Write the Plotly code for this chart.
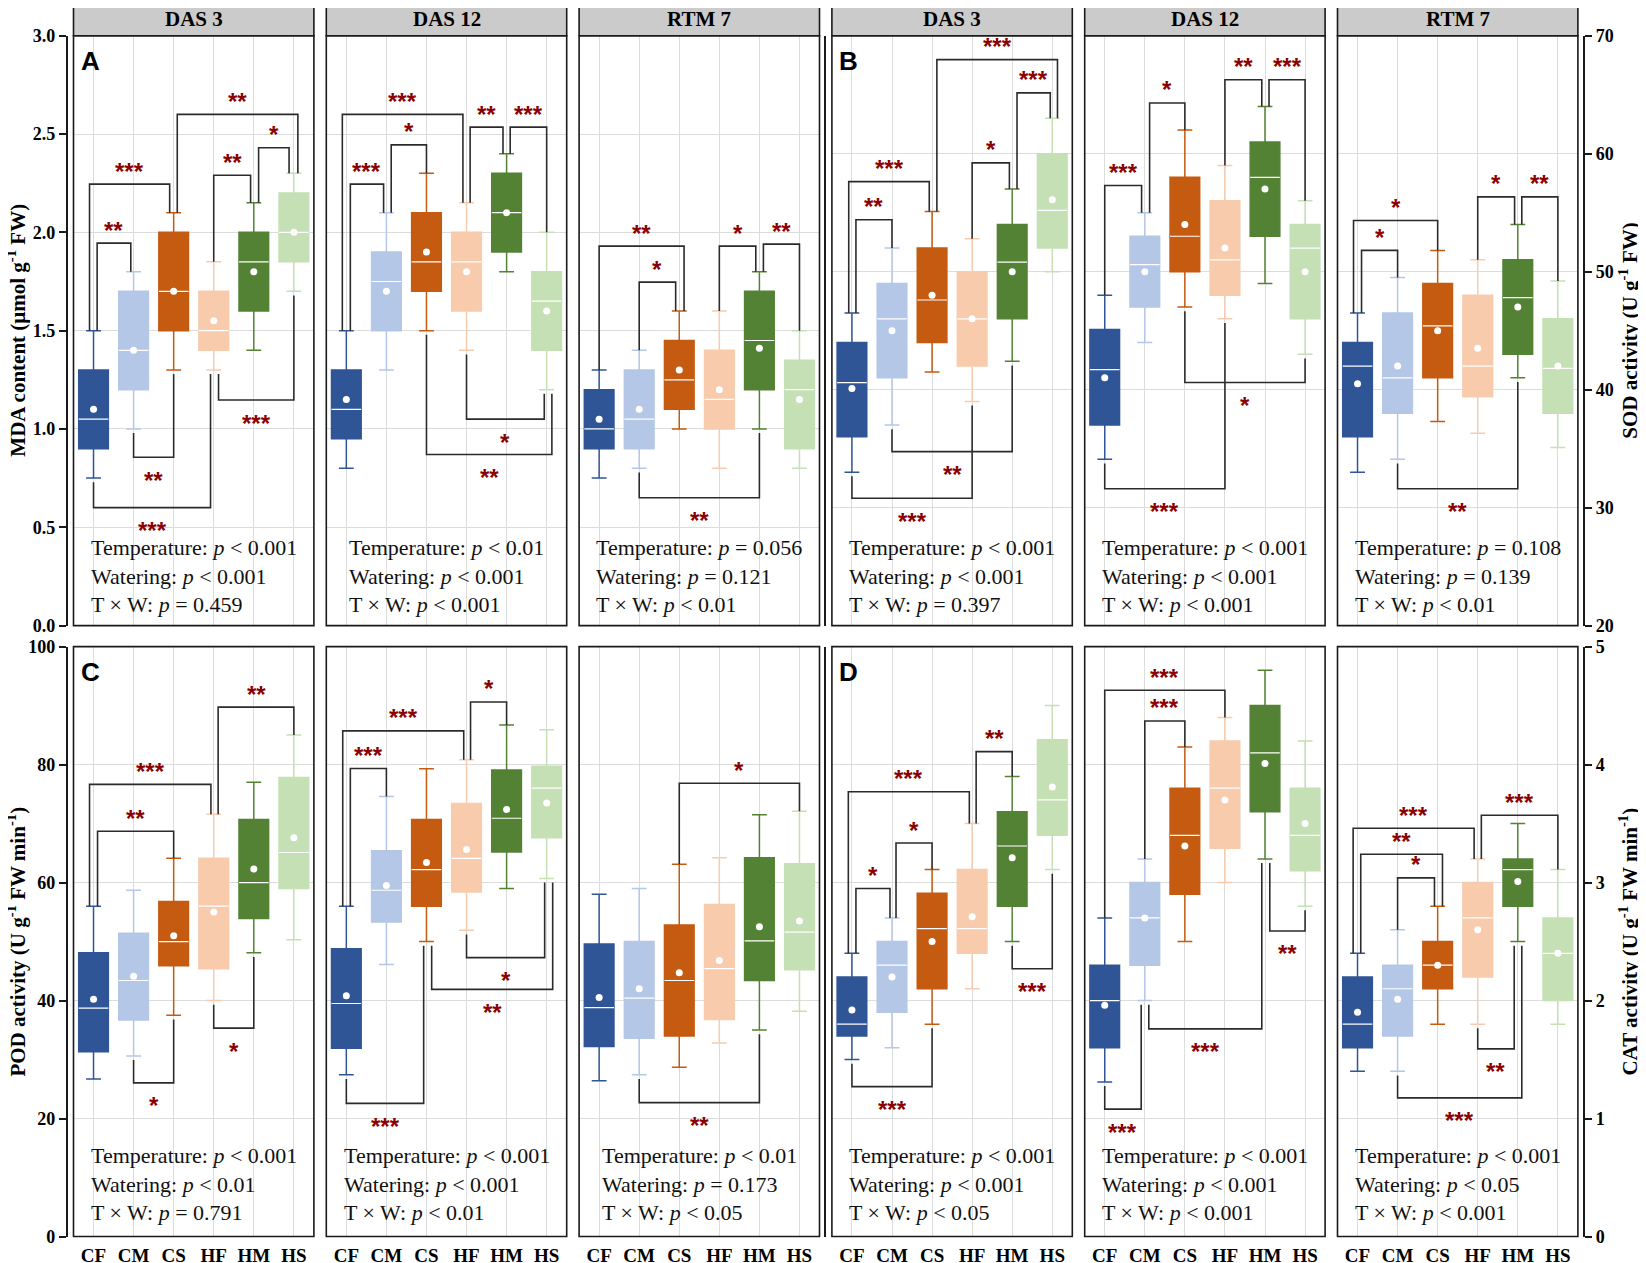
import plotly.graph_objects as go

GROUPS = ["CF", "CM", "CS", "HF", "HM", "HS"]
STAGES = ["DAS 3", "DAS 12", "RTM 7"]
COLORS = ["#2F5597", "#B4C7E7", "#C55A11", "#F8CBAD", "#548235", "#C5E0B4"]

# ---------------- data (rows = DAS 3, DAS 12, RTM 7; columns = CF..HS) ----------------
MDA_LO = [[0.75, 1.00, 1.30, 1.30, 1.40, 1.70], [0.80, 1.30, 1.50, 1.40, 1.80, 1.20], [0.75, 0.80, 1.00, 0.80, 1.00, 0.80]]
MDA_Q1 = [[0.90, 1.20, 1.50, 1.40, 1.60, 1.85], [0.95, 1.50, 1.70, 1.60, 1.90, 1.40], [0.90, 0.90, 1.10, 1.00, 1.20, 0.90]]
MDA_MED = [[1.05, 1.40, 1.70, 1.50, 1.85, 2.00], [1.10, 1.75, 1.85, 1.85, 2.10, 1.65], [1.00, 1.05, 1.25, 1.15, 1.45, 1.20]]
MDA_Q3 = [[1.30, 1.70, 2.00, 1.70, 2.00, 2.20], [1.30, 1.90, 2.10, 2.00, 2.30, 1.80], [1.20, 1.30, 1.45, 1.40, 1.70, 1.35]]
MDA_HI = [[1.50, 1.80, 2.10, 1.85, 2.15, 2.30], [1.50, 2.10, 2.30, 2.15, 2.40, 2.00], [1.30, 1.40, 1.60, 1.60, 1.80, 1.50]]
MDA_MEAN = [[1.10, 1.40, 1.70, 1.55, 1.80, 2.00], [1.15, 1.70, 1.90, 1.80, 2.10, 1.60], [1.05, 1.10, 1.30, 1.20, 1.41, 1.15]]

SOD_LO = [[33.0, 37.0, 41.5, 39.0, 42.4, 50.0], [34.1, 44.0, 47.0, 46.0, 49.0, 43.0], [33.0, 34.1, 37.3, 36.3, 41.0, 35.1]]
SOD_Q1 = [[36.0, 41.0, 44.0, 42.0, 46.0, 52.0], [37.0, 47.0, 50.0, 48.0, 53.0, 46.0], [36.0, 38.0, 41.0, 39.4, 43.0, 38.0]]
SOD_MED = [[40.6, 46.0, 47.6, 46.0, 50.8, 55.2], [41.7, 50.6, 53.0, 51.0, 58.0, 52.0], [42.0, 41.0, 45.4, 42.0, 47.8, 41.8]]
SOD_Q3 = [[44.0, 49.0, 52.0, 50.0, 54.0, 60.0], [45.1, 53.0, 58.0, 56.0, 61.0, 54.0], [44.0, 46.5, 49.0, 48.0, 51.0, 46.0]]
SOD_HI = [[46.5, 52.0, 55.1, 52.8, 57.0, 63.0], [48.0, 55.0, 62.0, 59.0, 64.0, 56.0], [46.5, 49.5, 51.8, 51.0, 54.0, 49.2]]
SOD_MEAN = [[40.1, 45.0, 48.0, 46.0, 50.0, 56.1], [41.0, 50.0, 54.0, 52.0, 57.0, 50.0], [40.5, 42.0, 45.0, 43.5, 47.0, 42.0]]

POD_LO = [[26.7, 30.6, 37.5, 40.0, 48.1, 50.3], [27.4, 46.1, 50.0, 51.9, 59.0, 60.7], [26.4, 27.4, 28.7, 32.8, 35.0, 38.2]]
POD_Q1 = [[31.3, 36.7, 45.9, 45.4, 53.9, 59.0], [31.9, 53.3, 56.0, 58.4, 65.2, 67.6], [32.2, 33.6, 34.0, 36.8, 43.4, 45.2]]
POD_MED = [[38.7, 43.4, 50.0, 56.0, 60.0, 65.1], [39.5, 58.7, 62.2, 64.1, 70.9, 76.0], [38.8, 40.4, 43.4, 45.4, 50.1, 51.6]]
POD_Q3 = [[48.1, 51.4, 56.8, 64.1, 70.7, 77.8], [48.8, 65.4, 70.7, 73.4, 79.1, 79.7], [49.6, 50.0, 52.8, 56.3, 64.2, 63.2]]
POD_HI = [[56.0, 58.7, 64.1, 71.6, 77.0, 85.0], [56.0, 74.6, 79.3, 80.8, 86.7, 85.9], [58.0, 59.0, 63.1, 64.2, 71.5, 72.1]]
POD_MEAN = [[40.2, 44.1, 51.0, 55.0, 62.3, 67.6], [40.8, 59.5, 63.4, 65.6, 72.4, 73.5], [40.5, 42.0, 44.7, 46.8, 52.5, 53.5]]

CAT_LO = [[1.50, 1.60, 1.80, 2.10, 2.50, 3.11], [1.31, 2.00, 2.50, 3.00, 3.20, 2.80], [1.40, 1.40, 1.80, 1.80, 2.50, 1.80]]
CAT_Q1 = [[1.70, 1.90, 2.10, 2.40, 2.80, 3.40], [1.60, 2.30, 2.90, 3.29, 3.60, 3.10], [1.60, 1.70, 2.10, 2.20, 2.80, 2.00]]
CAT_MED = [[1.80, 2.30, 2.61, 2.61, 3.31, 3.70], [2.00, 2.70, 3.40, 3.80, 4.10, 3.40], [1.80, 2.10, 2.30, 2.70, 3.11, 2.40]]
CAT_Q3 = [[2.20, 2.50, 2.91, 3.11, 3.60, 4.21], [2.30, 3.00, 3.80, 4.20, 4.50, 3.80], [2.20, 2.30, 2.50, 3.00, 3.20, 2.70]]
CAT_HI = [[2.40, 2.70, 3.11, 3.50, 3.90, 4.50], [2.70, 3.20, 4.15, 4.40, 4.80, 4.20], [2.40, 2.60, 2.80, 3.20, 3.50, 3.11]]
CAT_MEAN = [[1.92, 2.20, 2.50, 2.71, 3.21, 3.81], [1.96, 2.70, 3.31, 3.70, 4.01, 3.50], [1.90, 2.01, 2.30, 2.60, 3.01, 2.40]]

# significance brackets: (group i, group j, label, bracket level, side, leg nudge i, leg nudge j)
MDA_SIG = [
    [(0, 1, "**", 1.945, "up", 0.09, -0.07), (0, 2, "***", 2.245, "up", -0.10, -0.10), (2, 5, "**", 2.60, "up", 0.09, 0.10),
     (3, 4, "**", 2.29, "up", 0.0, -0.08), (4, 5, "*", 2.43, "up", 0.12, -0.12), (1, 2, "**", 0.856, "down", 0.0, 0.0),
     (0, 3, "***", 0.60, "down", 0.0, -0.08), (3, 5, "***", 1.147, "down", 0.12, 0.0)],
    [(0, 1, "***", 2.245, "up", 0.10, -0.07), (1, 2, "*", 2.445, "up", 0.12, 0.0), (0, 3, "***", 2.60, "up", -0.10, -0.09),
     (3, 4, "**", 2.535, "up", 0.09, -0.09), (4, 5, "***", 2.535, "up", 0.09, 0.0), (3, 5, "*", 1.05, "down", 0.0, -0.06),
     (2, 5, "**", 0.87, "down", 0.0, 0.13)],
    [(0, 2, "**", 1.93, "up", 0.0, 0.12), (1, 2, "*", 1.747, "up", 0.0, -0.09), (3, 4, "*", 1.93, "up", 0.0, -0.09),
     (4, 5, "**", 1.94, "up", 0.10, 0.0), (1, 4, "**", 0.65, "down", 0.0, 0.0)],
]
SOD_SIG = [
    [(0, 1, "**", 54.4, "up", 0.10, 0.0), (0, 2, "***", 57.63, "up", -0.08, -0.07), (2, 5, "***", 67.97, "up", 0.12, 0.13),
     (3, 4, "*", 59.22, "up", 0.0, -0.07), (4, 5, "***", 65.15, "up", 0.12, -0.05), (1, 4, "**", 34.75, "down", 0.0, 0.0),
     (0, 3, "***", 30.8, "down", 0.0, 0.0)],
    [(0, 1, "***", 57.3, "up", 0.0, -0.08), (1, 2, "*", 64.3, "up", 0.12, 0.0), (3, 4, "**", 66.27, "up", 0.0, -0.08),
     (4, 5, "***", 66.27, "up", 0.10, 0.0), (2, 5, "*", 40.6, "down", 0.0, 0.0), (0, 3, "***", 31.6, "down", 0.0, 0.0)],
    [(0, 1, "*", 51.8, "up", 0.10, 0.0), (0, 2, "*", 54.34, "up", -0.10, 0.0), (3, 4, "*", 56.34, "up", 0.0, -0.08),
     (4, 5, "**", 56.34, "up", 0.10, 0.0), (1, 4, "**", 31.6, "down", 0.0, 0.0)],
]
POD_SIG = [
    [(0, 2, "**", 68.71, "up", 0.10, 0.0), (0, 3, "***", 76.64, "up", -0.10, -0.07), (3, 5, "**", 89.74, "up", 0.11, 0.0),
     (1, 2, "*", 26.05, "down", 0.0, 0.0), (3, 4, "*", 35.33, "down", 0.0, 0.0)],
    [(0, 1, "***", 79.33, "up", 0.10, 0.0), (0, 3, "***", 85.71, "up", -0.09, -0.07), (3, 4, "*", 90.61, "up", 0.10, 0.0),
     (3, 5, "*", 47.28, "down", 0.0, -0.05), (2, 5, "**", 41.9, "down", 0.13, 0.15), (0, 2, "***", 22.56, "down", 0.0, -0.07)],
    [(2, 5, "*", 76.84, "up", 0.0, 0.0), (1, 4, "**", 22.7, "down", 0.0, 0.0)],
]
CAT_SIG = [
    [(0, 1, "*", 2.95, "up", 0.10, -0.05), (1, 2, "*", 3.335, "up", 0.10, 0.0), (0, 3, "***", 3.77, "up", -0.09, -0.07),
     (3, 4, "**", 4.11, "up", 0.10, 0.0), (0, 2, "***", 1.27, "down", 0.0, 0.0), (4, 5, "***", 2.27, "down", 0.0, 0.0)],
    [(1, 2, "***", 4.37, "up", 0.0, 0.0), (0, 3, "***", 4.63, "up", 0.0, 0.0), (0, 1, "***", 1.08, "down", 0.0, -0.09),
     (1, 4, "***", 1.76, "down", 0.10, -0.08), (4, 5, "**", 2.59, "down", 0.12, 0.0)],
    [(1, 2, "*", 3.04, "up", 0.0, -0.08), (0, 2, "**", 3.24, "up", 0.08, 0.12), (0, 3, "***", 3.46, "up", -0.11, -0.09),
     (3, 5, "***", 3.57, "up", 0.09, 0.0), (3, 4, "**", 1.59, "down", 0.0, -0.09), (1, 4, "***", 1.175, "down", 0.0, 0.10)],
]

# two-way ANOVA results: (Temperature, Watering, T x W)
MDA_STATS = [("< 0.001", "< 0.001", "= 0.459"), ("< 0.01", "< 0.001", "< 0.001"), ("= 0.056", "= 0.121", "< 0.01")]
SOD_STATS = [("< 0.001", "< 0.001", "= 0.397"), ("< 0.001", "< 0.001", "< 0.001"), ("= 0.108", "= 0.139", "< 0.01")]
POD_STATS = [("< 0.001", "< 0.01", "= 0.791"), ("< 0.001", "< 0.001", "< 0.01"), ("< 0.01", "= 0.173", "< 0.05")]
CAT_STATS = [("< 0.001", "< 0.001", "< 0.05"), ("< 0.001", "< 0.001", "< 0.001"), ("< 0.001", "< 0.05", "< 0.001")]

TITLES = {
    "MDA": "MDA content (μmol g<sup>-1</sup> FW)",
    "SOD": "SOD activity (U g<sup>-1</sup> FW)",
    "POD": "POD activity (U g<sup>-1</sup> FW min<sup>-1</sup>)",
    "CAT": "CAT activity (U g<sup>-1</sup> FW min<sup>-1</sup>)",
}
PANEL_LETTERS = {(0, 0): "A", (0, 3): "B", (1, 0): "C", (1, 3): "D"}

# ---------------- styling / geometry (page pixels) ----------------
W, H = 1646, 1263
OFF = 8  # page body margin in the browser
COL_X0 = [73.5 + 252.8 * k for k in range(6)]
COL_W = 240.4
ROW_Y0 = [35.7, 646.6]
ROW_H = 589.9
STRIP_TOP = 2.0
LEFT_AXIS_PX, MID_AXIS_PX, RIGHT_AXIS_PX = 66.7, 825.2, 1584.3
BOX_W = 0.74
GRID = "#dcdcdc"
FRAME = "#1a1a1a"
SIG_COLOR = "#8B0000"
SERIF = "Liberation Serif"
SANS = "Liberation Sans"
TICK_FONT = dict(family=SERIF, size=18, color="black", weight="bold")
STAT_SHIFT = [7, 10]


def fx(px):
    return (px - OFF) / W


def fy(py):
    return 1 - (py - OFF) / H


DATA = {
    "MDA": (MDA_LO, MDA_Q1, MDA_MED, MDA_Q3, MDA_HI, MDA_MEAN, MDA_SIG, MDA_STATS),
    "SOD": (SOD_LO, SOD_Q1, SOD_MED, SOD_Q3, SOD_HI, SOD_MEAN, SOD_SIG, SOD_STATS),
    "POD": (POD_LO, POD_Q1, POD_MED, POD_Q3, POD_HI, POD_MEAN, POD_SIG, POD_STATS),
    "CAT": (CAT_LO, CAT_Q1, CAT_MED, CAT_Q3, CAT_HI, CAT_MEAN, CAT_SIG, CAT_STATS),
}
AXIS = {
    "MDA": dict(range=[0, 3], dtick=0.5, fmt=".1f"),
    "SOD": dict(range=[20, 70], dtick=10, fmt="d"),
    "POD": dict(range=[0, 100], dtick=20, fmt="d"),
    "CAT": dict(range=[0, 5], dtick=1, fmt="d"),
}
PANEL_VARS = [["MDA", "SOD"], ["POD", "CAT"]]

fig = go.Figure()
layout_axes = {}
annotations = []
shapes = []

for r in range(2):
    for c in range(6):
        n = r * 6 + c + 1
        sfx = "" if n == 1 else str(n)
        xa, ya = "x" + sfx, "y" + sfx
        var = PANEL_VARS[r][c // 3]
        s = c % 3
        lo, q1, med, q3, hi, mean, sig, stats = DATA[var]
        ax = AXIS[var]
        span = ax["range"][1] - ax["range"][0]
        x0 = COL_X0[c]
        x1 = x0 + COL_W
        y0 = ROW_Y0[r]
        y1 = y0 + ROW_H

        layout_axes["xaxis" + sfx] = dict(
            domain=[fx(x0), fx(x1)], range=[-0.5, 5.5], anchor=ya, automargin=False,
            tickmode="array", tickvals=list(range(6)), ticktext=GROUPS,
            showticklabels=(r == 1), ticks="", ticklabelstandoff=5,
            showgrid=True, gridcolor=GRID, gridwidth=1, zeroline=False, showline=False,
            tickfont=dict(family=SERIF, size=19, color="black", weight="bold"),
        )
        yd = dict(
            domain=[fy(y1), fy(y0)], range=ax["range"], tick0=0, dtick=ax["dtick"], tickformat=ax["fmt"],
            showgrid=True, gridcolor=GRID, gridwidth=1, zeroline=False, showline=False,
            showticklabels=False, ticks="", automargin=False,
        )
        axis_style = dict(showline=True, linecolor=FRAME, linewidth=1.6)
        tick_style = dict(ticks="outside", ticklen=7, tickwidth=1.5, tickcolor=FRAME,
                          showticklabels=True, tickfont=TICK_FONT)
        if c == 0:
            yd.update(anchor="free", position=fx(LEFT_AXIS_PX), side="left", **axis_style, **tick_style)
        elif c == 5:
            yd.update(anchor="free", position=fx(RIGHT_AXIS_PX), side="right", **axis_style, **tick_style)
        elif c == 3:
            yd.update(anchor="free", position=fx(MID_AXIS_PX), side="left", **axis_style)
        else:
            yd.update(anchor=xa)
        layout_axes["yaxis" + sfx] = yd

        # boxes
        for g in range(6):
            fig.add_trace(go.Box(
                x=[g], q1=[q1[s][g]], median=[med[s][g]], q3=[q3[s][g]],
                lowerfence=[lo[s][g]], upperfence=[hi[s][g]],
                fillcolor=COLORS[g], line=dict(color=COLORS[g], width=1.5),
                width=BOX_W, whiskerwidth=0.5, boxpoints=False,
                hoverinfo="skip", showlegend=False, xaxis=xa, yaxis=ya,
            ))
        # white median lines
        mx, my = [], []
        for g in range(6):
            mx += [g - BOX_W / 2, g + BOX_W / 2, None]
            my += [med[s][g], med[s][g], None]
        fig.add_trace(go.Scatter(x=mx, y=my, mode="lines", line=dict(color="white", width=1.2),
                                 hoverinfo="skip", showlegend=False, xaxis=xa, yaxis=ya))
        # white mean dots
        fig.add_trace(go.Scatter(x=list(range(6)), y=mean[s], mode="markers",
                                 marker=dict(color="white", size=7, line=dict(width=0)),
                                 hoverinfo="skip", showlegend=False, xaxis=xa, yaxis=ya))
        # significance brackets
        bx, by = [], []
        gap = span * 0.007
        for (i, j, lab, lvl, side, di, dj) in sig[s]:
            xi, xj = i + di, j + dj
            if side == "up":
                ei, ej = hi[s][i], hi[s][j]
                ys = 13
            else:
                ei, ej = lo[s][i] - gap, lo[s][j] - gap
                ys = -23
            bx += [xi, xi, xj, xj, None]
            by += [ei, lvl, lvl, ej, None]
            annotations.append(dict(
                x=(xi + xj) / 2, y=lvl, xref=xa, yref=ya, text="<b>" + lab + "</b>", showarrow=False,
                xanchor="center", yanchor="middle", yshift=ys,
                font=dict(family=SANS, size=24, color=SIG_COLOR),
            ))
        fig.add_trace(go.Scatter(x=bx, y=by, mode="lines", line=dict(color="#2b2b2b", width=1.6),
                                 hoverinfo="skip", showlegend=False, xaxis=xa, yaxis=ya))

        # ANOVA text
        t, w, tw = [v.replace("<", "&lt;") for v in stats[s]]
        annotations.append(dict(
            x=0.5, y=0, xref=xa + " domain", yref=ya + " domain",
            text=f"Temperature: <i>p</i> {t}<br>Watering: <i>p</i> {w}<br>T × W: <i>p</i> {tw}",
            showarrow=False, xanchor="center", yanchor="bottom", align="left", yshift=STAT_SHIFT[r],
            font=dict(family=SERIF, size=22, color="#111111"),
        ))
        # panel frame
        shapes.append(dict(type="rect", xref=xa + " domain", yref=ya + " domain", x0=0, x1=1, y0=0, y1=1,
                           line=dict(color=FRAME, width=1.6), fillcolor="rgba(0,0,0,0)", layer="above"))
        # panel letters
        if (r, c) in PANEL_LETTERS:
            annotations.append(dict(
                x=0.07, y=0.957, xref=xa + " domain", yref=ya + " domain",
                text="<b>" + PANEL_LETTERS[(r, c)] + "</b>", showarrow=False,
                xanchor="center", yanchor="middle", font=dict(family=SANS, size=26, color="black"),
            ))
        # facet strips
        if r == 0:
            shapes.append(dict(type="rect", xref="paper", yref="paper", x0=fx(x0), x1=fx(x1),
                               y0=fy(ROW_Y0[0]), y1=fy(STRIP_TOP),
                               line=dict(color=FRAME, width=1.6), fillcolor="#cbcbcb", layer="above"))
            annotations.append(dict(
                x=fx((x0 + x1) / 2), y=fy((ROW_Y0[0] + STRIP_TOP) / 2), xref="paper", yref="paper",
                text="<b>" + STAGES[s] + "</b>", showarrow=False, xanchor="center", yanchor="middle",
                font=dict(family=SERIF, size=21, color="black"),
            ))

# axis titles
for r in range(2):
    yc = fy(ROW_Y0[r] + ROW_H / 2)
    annotations.append(dict(x=fx(17), y=yc, xref="paper", yref="paper", text="<b>" + TITLES[PANEL_VARS[r][0]] + "</b>",
                            textangle=-90, showarrow=False, xanchor="center", yanchor="middle",
                            font=dict(family=SERIF, size=21, color="black")))
    annotations.append(dict(x=fx(1629), y=yc, xref="paper", yref="paper", text="<b>" + TITLES[PANEL_VARS[r][1]] + "</b>",
                            textangle=-90, showarrow=False, xanchor="center", yanchor="middle",
                            font=dict(family=SERIF, size=21, color="black")))

fig.update_layout(
    width=W, height=H, margin=dict(l=0, r=0, t=0, b=0, autoexpand=False),
    paper_bgcolor="white", plot_bgcolor="white", showlegend=False, boxmode="overlay",
    annotations=annotations, shapes=shapes, **layout_axes,
)

fig.write_html("out.html")
